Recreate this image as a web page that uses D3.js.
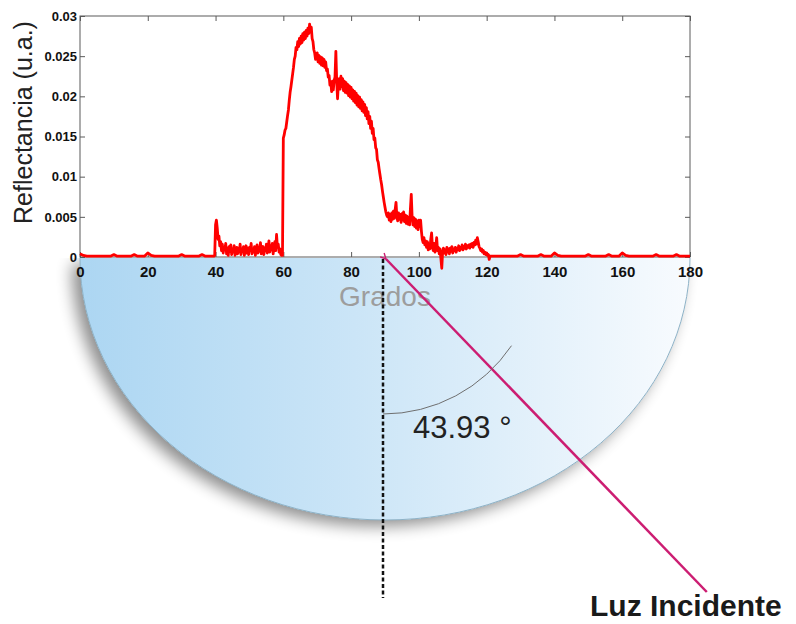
<!DOCTYPE html>
<html>
<head>
<meta charset="utf-8">
<script src="https://cdn.jsdelivr.net/npm/d3@7"></script>
<style>
  body { margin: 0; background: #fff; }
  text { font-family: "Liberation Sans", Arial, Helvetica, sans-serif; }
</style>
</head>
<body>
<svg id="chart" width="796" height="624"></svg>
<script>
// ---- Data -----------------------------------------------------------
// Reflectance vs. angle (degrees). Flat baseline sampled every degree,
// the active 39–121° band sampled every quarter degree (4 per row).
const baselineLeftStart = 0;          // 0..38 °, 1° step
const baselineLeft = [
  0.0004, 0.0002, 0.0001, 0.0001, 0.0001, 0.0001, 0.0001, 0.0001, 0.0001, 0.0001,
  0.0003, 0.0001, 0.0001, 0.0001, 0.0001, 0.0001, 0.0003, 0.0001, 0.0001, 0.0001,
  0.0005, 0.0002, 0.0001, 0.0001, 0.0001, 0.0001, 0.0001, 0.0001, 0.0001, 0.0001,
  0.0003, 0.0001, 0.0001, 0.0001, 0.0001, 0.0001, 0.0003, 0.0001, 0.0001
];

const fineStart = 39;                 // rows of 4 samples: d, d+.25, d+.5, d+.75
const fineRows = [
  [0.0001, 0.0001, 0.0001, 0.0002], // 39
  [0.0040, 0.0046, 0.0036, 0.0022], // 40
  [0.0026, 0.0014, 0.0019, 0.0008],
  [0.0016, 0.0005, 0.0012, 0.0009],
  [0.0017, 0.0004, 0.0011, 0.0002],
  [0.0013, 0.0007, 0.0015, 0.0003],
  [0.0010, 0.0006, 0.0014, 0.0002], // 45
  [0.0009, 0.0012, 0.0004, 0.0011],
  [0.0006, 0.0016, 0.0003, 0.0010],
  [0.0007, 0.0013, 0.0002, 0.0009],
  [0.0014, 0.0005, 0.0011, 0.0003],
  [0.0012, 0.0008, 0.0017, 0.0004], // 50
  [0.0010, 0.0006, 0.0013, 0.0002],
  [0.0011, 0.0015, 0.0005, 0.0012],
  [0.0007, 0.0018, 0.0004, 0.0010],
  [0.0013, 0.0003, 0.0011, 0.0008],
  [0.0016, 0.0005, 0.0012, 0.0020], // 55
  [0.0006, 0.0014, 0.0009, 0.0017],
  [0.0004, 0.0013, 0.0019, 0.0008],
  [0.0028, 0.0012, 0.0016, 0.0006],
  [0.0010, 0.0003, 0.0002, 0.0002],
  [0.0148, 0.0152, 0.0158, 0.0160], // 60
  [0.0168, 0.0176, 0.0183, 0.0195],
  [0.0205, 0.0212, 0.0220, 0.0228],
  [0.0236, 0.0246, 0.0250, 0.0261],
  [0.0258, 0.0268, 0.0262, 0.0272],
  [0.0265, 0.0275, 0.0267, 0.0278], // 65
  [0.0270, 0.0280, 0.0272, 0.0282],
  [0.0275, 0.0285, 0.0278, 0.0290],
  [0.0280, 0.0286, 0.0272, 0.0268],
  [0.0258, 0.0254, 0.0246, 0.0250],
  [0.0254, 0.0243, 0.0251, 0.0241], // 70
  [0.0249, 0.0239, 0.0248, 0.0238],
  [0.0246, 0.0236, 0.0243, 0.0232],
  [0.0234, 0.0224, 0.0226, 0.0214],
  [0.0218, 0.0206, 0.0219, 0.0208],
  [0.0220, 0.0224, 0.0256, 0.0218], // 75
  [0.0197, 0.0216, 0.0222, 0.0209],
  [0.0225, 0.0212, 0.0222, 0.0207],
  [0.0219, 0.0205, 0.0217, 0.0204],
  [0.0215, 0.0201, 0.0213, 0.0199],
  [0.0211, 0.0197, 0.0208, 0.0194], // 80
  [0.0206, 0.0192, 0.0204, 0.0189],
  [0.0201, 0.0187, 0.0199, 0.0185],
  [0.0196, 0.0182, 0.0193, 0.0180],
  [0.0190, 0.0176, 0.0186, 0.0172],
  [0.0181, 0.0166, 0.0175, 0.0160], // 85
  [0.0169, 0.0154, 0.0160, 0.0146],
  [0.0148, 0.0136, 0.0134, 0.0121],
  [0.0118, 0.0110, 0.0103, 0.0096],
  [0.0090, 0.0082, 0.0075, 0.0068],
  [0.0062, 0.0056, 0.0052, 0.0050], // 90
  [0.0055, 0.0046, 0.0053, 0.0044],
  [0.0055, 0.0047, 0.0057, 0.0048],
  [0.0059, 0.0068, 0.0050, 0.0045],
  [0.0055, 0.0047, 0.0053, 0.0043],
  [0.0054, 0.0046, 0.0056, 0.0044], // 95
  [0.0052, 0.0042, 0.0051, 0.0041],
  [0.0049, 0.0040, 0.0060, 0.0078],
  [0.0050, 0.0040, 0.0049, 0.0038],
  [0.0047, 0.0036, 0.0045, 0.0034],
  [0.0046, 0.0038, 0.0046, 0.0032], // 100
  [0.0022, 0.0018, 0.0024, 0.0015],
  [0.0020, 0.0012, 0.0019, 0.0009],
  [0.0016, 0.0010, 0.0022, 0.0030],
  [0.0012, 0.0008, 0.0017, 0.0006],
  [0.0013, 0.0024, 0.0008, 0.0012], // 105
  [0.0004, 0.0010, -0.0002, -0.0014],
  [0.0006, 0.0011, 0.0005, 0.0009],
  [0.0003, 0.0012, 0.0006, 0.0010],
  [0.0004, 0.0011, 0.0007, 0.0013],
  [0.0005, 0.0010, 0.0008, 0.0012], // 110
  [0.0006, 0.0011, 0.0009, 0.0014],
  [0.0008, 0.0012, 0.0010, 0.0015],
  [0.0009, 0.0013, 0.0011, 0.0016],
  [0.0010, 0.0014, 0.0012, 0.0015],
  [0.0011, 0.0016, 0.0013, 0.0017], // 115
  [0.0012, 0.0018, 0.0015, 0.0021],
  [0.0016, 0.0024, 0.0019, 0.0013],
  [0.0011, 0.0008, 0.0010, 0.0006],
  [0.0008, 0.0004, 0.0006, 0.0003],
  [0.0005, 0.0002, 0.0003, -0.0003], // 120
  [0.0001, 0.0001, 0.0001, 0.0001]
];

const baselineRightStart = 122;       // 122..180 °, 1° step
const baselineRight = [
  0.0001, 0.0001, 0.0001, 0.0001, 0.0001, 0.0001, 0.0001, 0.0001,
  0.0003, 0.0001, 0.0001, 0.0001, 0.0001, 0.0001, 0.0003, 0.0001, 0.0001, 0.0001,
  0.0005, 0.0002, 0.0001, 0.0001, 0.0001, 0.0001, 0.0001, 0.0001, 0.0001, 0.0001,
  0.0003, 0.0001, 0.0001, 0.0001, 0.0001, 0.0001, 0.0003, 0.0001, 0.0001, 0.0001,
  0.0005, 0.0002, 0.0001, 0.0001, 0.0001, 0.0001, 0.0001, 0.0001, 0.0001, 0.0001,
  0.0003, 0.0001, 0.0001, 0.0001, 0.0001, 0.0001, 0.0003, 0.0001, 0.0001, 0.0001, 0.0001
];

const xTicks = [0, 20, 40, 60, 80, 100, 120, 140, 160, 180];
const yTicks = [0, 0.005, 0.01, 0.015, 0.02, 0.025, 0.03];
const yTickLabels = ["0", "0.005", "0.01", "0.015", "0.02", "0.025", "0.03"];

const incidentAngle = 43.93;          // degrees from the normal
const normalAngle = 90;               // position of the normal on the angle axis

// ---- Assemble the series ---------------------------------------------
const series = [];
baselineLeft.forEach((v, i) => series.push([baselineLeftStart + i, v]));
fineRows.forEach((row, r) => row.forEach((v, k) => series.push([fineStart + r + k / 4, v])));
baselineRight.forEach((v, i) => series.push([baselineRightStart + i, v]));

// ---- Scales ------------------------------------------------------------
const svg = d3.select("#chart");
const x = d3.scaleLinear().domain([0, 180]).range([80, 690]);
const y = d3.scaleLinear().domain([0, 0.03]).range([257, 16]);

const defs = svg.append("defs");

// Half-disc fill: light blue fading to white
const grad = defs.append("linearGradient").attr("id", "discFill")
  .attr("x1", "0%").attr("x2", "100%").attr("y1", "0%").attr("y2", "0%");
grad.append("stop").attr("offset", "0%").attr("stop-color", "#acd6f2");
grad.append("stop").attr("offset", "45%").attr("stop-color", "#cbe5f7");
grad.append("stop").attr("offset", "100%").attr("stop-color", "#f8fbfe");

const shadow = defs.append("filter").attr("id", "discShadow")
  .attr("x", "-20%").attr("y", "-20%").attr("width", "140%").attr("height", "150%");
shadow.append("feGaussianBlur").attr("in", "SourceAlpha").attr("stdDeviation", 8).attr("result", "b");
shadow.append("feOffset").attr("in", "b").attr("dx", -8).attr("dy", 6).attr("result", "o");
shadow.append("feComponentTransfer").attr("in", "o").attr("result", "s")
  .append("feFuncA").attr("type", "linear").attr("slope", 0.45);
const merge = shadow.append("feMerge");
merge.append("feMergeNode").attr("in", "s");
merge.append("feMergeNode").attr("in", "SourceGraphic");

defs.append("clipPath").attr("id", "belowAxis")
  .append("rect").attr("x", 0).attr("y", 258).attr("width", 796).attr("height", 366);

defs.append("marker").attr("id", "arrowTip")
  .attr("viewBox", "0 0 10 10").attr("refX", 1).attr("refY", 5)
  .attr("markerWidth", 7).attr("markerHeight", 7).attr("orient", "auto-start-reverse")
  .attr("markerUnits", "userSpaceOnUse")
  .append("path").attr("d", "M9,1 L1,5 L9,9")
  .attr("fill", "none").attr("stroke", "#cc1d72").attr("stroke-width", 2);

// ---- Half disc (angle protractor) ----------------------------------------
const cx = x(normalAngle);
const discTop = 258;
const rx = (x(180) - x(0)) / 2, ry = 262;
const discCx = (x(0) + x(180)) / 2;
const discG = svg.append("g").attr("clip-path", "url(#belowAxis)");
discG.append("path")
  .attr("d", `M${discCx - rx},${discTop} A${rx},${ry} 0 0 0 ${discCx + rx},${discTop} Z`)
  .attr("fill", "url(#discFill)")
  .attr("filter", "url(#discShadow)");
discG.append("path")
  .attr("d", `M${discCx - rx},${discTop} A${rx},${ry} 0 0 0 ${discCx + rx},${discTop}`)
  .attr("fill", "none").attr("stroke", "#8db2c7").attr("stroke-width", 1);

// ---- Plot frame, axes -----------------------------------------------------
const frame = svg.append("g");
frame.append("rect")
  .attr("x", x(0)).attr("y", y(0.03))
  .attr("width", x(180) - x(0)).attr("height", y(0) - y(0.03))
  .attr("fill", "#fff").attr("stroke", "#5a5a5a").attr("stroke-width", 1);

const styleAxis = g => {
  g.select(".domain").remove();
  g.selectAll(".tick line").attr("stroke", "#5a5a5a");
};

svg.append("g").attr("transform", `translate(0,${y(0)})`)
  .call(d3.axisBottom(x).tickValues(xTicks).tickSizeInner(-5).tickSizeOuter(0).tickPadding(9))
  .call(styleAxis)
  .call(g => g.selectAll("text").attr("font-size", 15).attr("font-weight", "bold").attr("fill", "#111")
    .style("font-family", "'Liberation Sans', Arial, sans-serif"));

svg.append("g").attr("transform", `translate(0,${y(0.03)})`)
  .call(d3.axisTop(x).tickValues(xTicks).tickSizeInner(-5).tickSizeOuter(0).tickFormat(""))
  .call(styleAxis);

svg.append("g").attr("transform", `translate(${x(0)},0)`)
  .call(d3.axisLeft(y).tickValues(yTicks).tickSizeInner(-5).tickSizeOuter(0).tickPadding(3)
    .tickFormat((d, i) => yTickLabels[i]))
  .call(styleAxis)
  .call(g => g.selectAll("text").attr("font-size", 13).attr("font-weight", "bold").attr("fill", "#111")
    .style("font-family", "'Liberation Sans', Arial, sans-serif"));

svg.append("g").attr("transform", `translate(${x(180)},0)`)
  .call(d3.axisRight(y).tickValues(yTicks).tickSizeInner(-5).tickSizeOuter(0).tickFormat(""))
  .call(styleAxis);

// ---- Reflectance trace ------------------------------------------------------
svg.append("path")
  .datum(series)
  .attr("d", d3.line().x(d => x(d[0])).y(d => y(d[1])))
  .attr("fill", "none")
  .attr("stroke", "#ff0000")
  .attr("stroke-width", 2.8)
  .attr("stroke-linejoin", "round");

// ---- Axis titles ------------------------------------------------------------
svg.append("text")
  .attr("transform", `translate(32,${(y(0) + y(0.03)) / 2 - 14}) rotate(-90)`)
  .attr("text-anchor", "middle")
  .attr("font-size", 25)
  .attr("fill", "#222")
  .text("Reflectancia (u.a.)");

svg.append("text")
  .attr("x", discCx).attr("y", 306)
  .attr("text-anchor", "middle")
  .attr("font-size", 28)
  .attr("fill", "#9d9d9d")
  .text("Grados");

// ---- Normal (dashed) and incident beam ------------------------------------------
const pivotY = y(0) + 2;
svg.append("line")
  .attr("x1", cx - 2).attr("x2", cx - 2)
  .attr("y1", pivotY).attr("y2", 598)
  .attr("stroke", "#111").attr("stroke-width", 2.5)
  .attr("stroke-dasharray", "4,2.5");

const theta = incidentAngle * Math.PI / 180;
const beamEndY = 592;
const beamLen = (beamEndY - pivotY) / Math.cos(theta);
svg.append("line")
  .attr("x1", cx + 1).attr("y1", pivotY)
  .attr("x2", cx + 1 + beamLen * Math.sin(theta)).attr("y2", beamEndY)
  .attr("stroke", "#cc1d72").attr("stroke-width", 2.5)
  .attr("marker-start", "url(#arrowTip)");

// angle arc from the normal, sweeping past the beam
const arcR = 155;
const arcPath = d3.path();
arcPath.arc(cx - 2, pivotY, arcR, Math.PI / 2 - 56 * Math.PI / 180, Math.PI / 2);
svg.append("path")
  .attr("d", arcPath.toString())
  .attr("fill", "none").attr("stroke", "#6f6f6f").attr("stroke-width", 1);

svg.append("text")
  .attr("x", 413).attr("y", 438)
  .attr("font-size", 31)
  .attr("fill", "#222")
  .text(`${incidentAngle.toFixed(2)} °`);

svg.append("text")
  .attr("x", 590).attr("y", 616)
  .attr("font-size", 30)
  .attr("font-weight", "bold")
  .attr("fill", "#1a1a1a")
  .text("Luz Incidente");
</script>
</body>
</html>
